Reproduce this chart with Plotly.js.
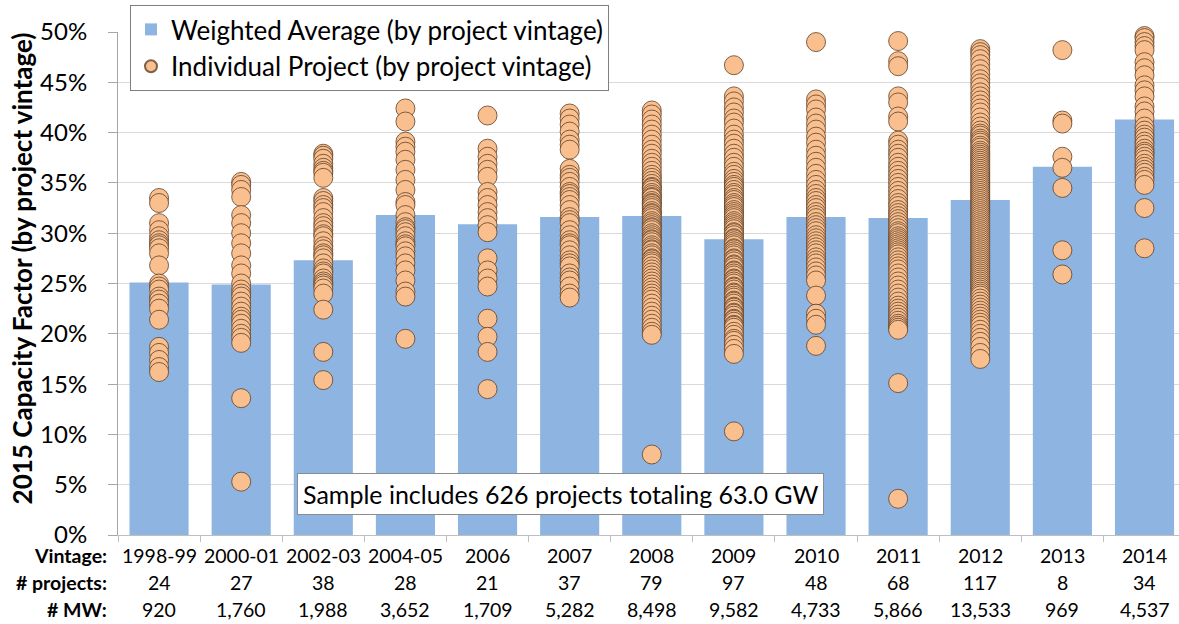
<!DOCTYPE html>
<html>
<head>
<meta charset="utf-8">
<script src="https://cdn.plot.ly/plotly-3.0.1.min.js"></script>
<style>
  html, body { margin: 0; padding: 0; background: #ffffff; }
  #chart { width: 1179px; height: 624px; }
</style>
</head>
<body>
<div id="chart"></div>
<script>
// ---------- DATA ----------
const vintages = ['1998-99','2000-01','2002-03','2004-05','2006','2007','2008','2009','2010','2011','2012','2013','2014'];
const numProjects = [24, 27, 38, 28, 21, 37, 79, 97, 48, 68, 117, 8, 34];
const capacityMW = [920, 1760, 1988, 3652, 1709, 5282, 8498, 9582, 4733, 5866, 13533, 969, 4537];
const weightedAvg = [25.1, 24.9, 27.3, 31.8, 30.9, 31.6, 31.7, 29.4, 31.6, 31.5, 33.3, 36.6, 41.3];

// Individual project capacity factors (%)
const cf1998_99 = [33.5, 33.0, 31.0, 30.3, 29.7, 29.3, 29.0, 28.8, 28.5, 28.0, 26.8, 25.0, 24.7, 24.4, 23.7, 23.4, 23.0, 22.5, 21.4, 18.7, 18.1, 17.4, 16.7, 16.2];
const cf2000_01 = [35.1, 34.8, 34.3, 33.6, 31.8, 31.0, 30.0, 29.0, 28.0, 26.8, 26.0, 25.0, 24.4, 24.0, 23.7, 23.2, 22.7, 22.2, 21.7, 21.4, 21.0, 20.5, 20.0, 19.6, 19.1, 13.6, 5.3];
const cf2002_03 = [37.9, 37.7, 37.4, 36.9, 36.5, 36.2, 36.0, 35.5, 33.5, 33.2, 32.8, 32.5, 32.1, 31.5, 31.0, 30.7, 30.3, 29.9, 29.7, 29.2, 28.7, 28.4, 28.0, 27.8, 27.5, 27.0, 26.5, 26.2, 26.0, 25.5, 25.2, 25.0, 24.8, 24.5, 24.0, 22.4, 18.2, 15.4];
const cf2004_05 = [42.4, 41.1, 39.1, 38.6, 38.1, 37.3, 36.3, 35.3, 34.3, 33.1, 32.8, 31.8, 31.1, 30.6, 30.4, 30.1, 29.7, 29.2, 28.9, 28.7, 28.2, 27.7, 27.0, 26.3, 25.3, 24.2, 23.7, 19.5];
const cf2006 = [41.7, 38.4, 37.6, 36.9, 36.3, 35.6, 34.1, 33.5, 32.8, 32.1, 31.5, 30.8, 30.1, 27.5, 26.3, 25.5, 24.7, 21.5, 19.7, 18.2, 14.5];
const cf2007 = [41.9, 41.4, 40.8, 40.1, 39.3, 38.8, 38.3, 36.4, 35.8, 35.5, 35.1, 34.6, 34.1, 33.9, 33.6, 33.3, 32.8, 32.3, 31.6, 31.3, 31.0, 30.3, 29.8, 29.3, 29.0, 28.8, 28.3, 27.8, 27.3, 27.0, 26.7, 26.0, 25.6, 25.3, 24.7, 24.0, 23.6];
const cf2008 = [42.2, 41.8, 41.3, 40.8, 40.3, 39.8, 39.3, 38.8, 38.3, 37.9, 37.4, 37.0, 36.6, 36.2, 35.8, 35.5, 35.2, 34.9, 34.6, 34.5, 34.3, 34.0, 33.8, 33.6, 33.5, 33.2, 33.0, 32.9, 32.7, 32.5, 32.2, 32.0, 31.9, 31.7, 31.5, 31.2, 31.0, 30.8, 30.6, 30.5, 30.3, 30.0, 29.8, 29.6, 29.4, 29.3, 29.1, 28.8, 28.6, 28.4, 28.3, 28.0, 27.8, 27.5, 27.4, 27.2, 27.0, 26.7, 26.4, 26.1, 25.8, 25.5, 25.2, 24.9, 24.6, 24.3, 24.0, 23.7, 23.4, 23.0, 22.6, 22.2, 21.8, 21.4, 21.0, 20.6, 20.2, 19.9, 8.0];
const cf2009 = [46.7, 43.6, 43.1, 42.5, 42.0, 41.4, 41.0, 40.4, 39.8, 39.3, 38.9, 38.4, 37.9, 37.5, 37.0, 36.6, 36.1, 35.8, 35.4, 35.1, 34.8, 34.6, 34.3, 34.0, 33.8, 33.5, 33.3, 33.0, 32.8, 32.6, 32.3, 32.1, 31.9, 31.7, 31.5, 31.2, 31.0, 30.8, 30.6, 30.4, 30.1, 30.0, 29.8, 29.5, 29.4, 29.2, 29.0, 28.8, 28.5, 28.4, 28.2, 28.0, 27.8, 27.5, 27.4, 27.2, 26.9, 26.8, 26.6, 26.3, 26.2, 26.0, 25.8, 25.5, 25.4, 25.2, 25.0, 24.7, 24.6, 24.4, 24.1, 24.0, 23.8, 23.6, 23.3, 23.2, 23.0, 22.7, 22.6, 22.4, 22.1, 22.0, 21.8, 21.5, 21.4, 21.2, 20.9, 20.8, 20.6, 20.2, 19.9, 19.5, 19.3, 18.9, 18.5, 18.0, 10.3];
const cf2010 = [49.0, 43.3, 42.8, 42.3, 41.5, 40.9, 40.3, 39.6, 39.0, 38.3, 37.7, 37.1, 36.5, 35.9, 35.3, 34.8, 34.3, 33.9, 33.5, 33.2, 32.8, 32.5, 32.1, 31.8, 31.5, 31.1, 30.8, 30.5, 30.2, 29.8, 29.5, 29.2, 28.9, 28.6, 28.3, 28.0, 27.6, 27.3, 27.0, 26.6, 26.2, 25.8, 25.3, 23.8, 22.0, 21.5, 20.9, 18.8];
const cf2011 = [49.1, 47.1, 46.6, 43.6, 43.0, 41.6, 41.1, 39.2, 38.8, 38.3, 37.9, 37.5, 37.0, 36.6, 36.2, 35.8, 35.4, 35.0, 34.6, 34.2, 33.8, 33.4, 33.0, 32.7, 32.3, 32.0, 31.7, 31.4, 31.1, 30.8, 30.5, 30.2, 30.0, 29.7, 29.5, 29.3, 29.1, 28.9, 28.7, 28.5, 28.3, 28.1, 27.9, 27.6, 27.3, 27.0, 26.7, 26.4, 26.0, 25.6, 25.2, 24.8, 24.4, 24.0, 23.6, 23.2, 22.8, 22.5, 22.2, 21.9, 21.6, 21.3, 21.0, 20.8, 20.6, 20.4, 15.1, 3.6];
const cf2012 = [48.3, 48.0, 47.7, 47.3, 46.8, 46.3, 45.8, 45.3, 44.9, 44.5, 44.0, 43.6, 43.2, 42.8, 42.4, 42.0, 41.5, 41.0, 40.6, 40.2, 39.9, 39.7, 39.4, 39.2, 39.0, 38.7, 38.5, 38.2, 38.0, 37.8, 37.6, 37.4, 37.2, 37.0, 36.8, 36.6, 36.4, 36.2, 36.0, 35.8, 35.6, 35.4, 35.2, 35.0, 34.8, 34.6, 34.4, 34.2, 34.0, 33.8, 33.6, 33.4, 33.2, 33.0, 32.8, 32.6, 32.4, 32.2, 32.0, 31.8, 31.6, 31.4, 31.2, 31.0, 30.8, 30.6, 30.4, 30.2, 30.0, 29.8, 29.6, 29.4, 29.2, 29.0, 28.8, 28.6, 28.4, 28.2, 28.0, 27.8, 27.6, 27.4, 27.2, 27.0, 26.8, 26.6, 26.4, 26.2, 26.0, 25.8, 25.6, 25.4, 25.2, 25.0, 24.8, 24.6, 24.4, 24.2, 24.0, 23.8, 23.5, 23.2, 22.9, 22.6, 22.3, 22.0, 21.7, 21.4, 21.1, 20.8, 20.4, 20.0, 19.6, 19.2, 18.7, 18.1, 17.5];
const cf2013 = [48.2, 41.2, 40.9, 37.6, 36.5, 34.5, 28.3, 25.9];
const cf2014 = [49.6, 49.4, 49.0, 48.6, 48.2, 47.0, 46.4, 45.7, 44.7, 44.2, 43.6, 42.6, 42.1, 41.4, 40.6, 40.2, 39.8, 39.5, 39.1, 38.8, 38.4, 38.1, 37.9, 37.6, 37.3, 36.9, 36.6, 36.3, 36.0, 35.6, 35.3, 34.8, 32.5, 28.5];

const individual = [cf1998_99, cf2000_01, cf2002_03, cf2004_05, cf2006, cf2007, cf2008, cf2009, cf2010, cf2011, cf2012, cf2013, cf2014];

const rowLabels = ['Vintage:', '# projects:', '# MW:'];
const legendNames = ['Weighted Average (by project vintage)', 'Individual Project (by project vintage)'];
const noteText = 'Sample includes 626 projects totaling 63.0 GW';
const yTitle = '2015 Capacity Factor (by project vintage)';

// ---------- BUILD ----------
const scatterX = [], scatterY = [];
individual.forEach((arr, i) => arr.forEach(v => { scatterX.push(vintages[i]); scatterY.push(v); }));

const FONT = 'Lato, "Open Sans", sans-serif';
const TXT = '#000000';

const traces = [
  {
    type: 'bar', x: vintages, y: weightedAvg, name: legendNames[0],
    marker: { color: '#8eb4e2', line: { width: 0 } },
    legendgroup: 'a', hoverinfo: 'skip'
  },
  {
    type: 'scatter', mode: 'markers', x: scatterX, y: scatterY, name: legendNames[1],
    marker: { size: 19, color: '#f9bf8f', line: { color: 'rgba(95,65,40,0.8)', width: 1 } },
    cliponaxis: false, legendgroup: 'b', hoverinfo: 'skip'
  }
];

const rowY = [-0.041, -0.0945, -0.148];
const annotations = [];
rowLabels.forEach((t, r) => annotations.push({
  xref: 'paper', yref: 'paper', x: -0.009, y: rowY[r], xanchor: 'right', yanchor: 'middle',
  text: '<b>' + t + '</b>', showarrow: false, borderpad: 0, font: { family: FONT, size: 19.5, color: TXT }
}));
vintages.forEach((v, i) => {
  const vals = [v, String(numProjects[i]), capacityMW[i].toLocaleString('en-US')];
  vals.forEach((t, r) => annotations.push({
    xref: 'x', yref: 'paper', x: i, y: rowY[r], xanchor: 'center', yanchor: 'middle',
    text: t, showarrow: false, borderpad: 0, font: { family: FONT, size: 19.5, color: TXT }
  }));
});
annotations.push({
  xref: 'paper', yref: 'paper', x: 0.4166, y: 0.0815, xanchor: 'center', yanchor: 'middle',
  text: noteText, showarrow: false, bgcolor: '#ffffff', bordercolor: '#8c8c8c', borderwidth: 1,
  borderpad: 5, font: { family: FONT, size: 25, color: TXT }
});
// y-axis title (placed as a rotated annotation to match reference position)
annotations.push({
  xref: 'paper', yref: 'paper', x: -0.0905, y: 0.53, xanchor: 'center', yanchor: 'middle',
  text: '<b>' + yTitle + '</b>', textangle: -90, showarrow: false,
  font: { family: FONT, size: 26, color: TXT }
});

const layout = {
  width: 1179, height: 624,
  margin: { l: 118, r: 0, t: 32, b: 89 },
  paper_bgcolor: '#ffffff', plot_bgcolor: '#ffffff',
  font: { family: FONT, color: TXT },
  bargap: 0.28,
  showlegend: true,
  legend: {
    x: 0.0113, y: 1.0537, xanchor: 'left', yanchor: 'top',
    bgcolor: '#ffffff', bordercolor: '#7f7f7f', borderwidth: 1,
    font: { family: FONT, size: 26, color: TXT },
    traceorder: 'grouped', tracegroupgap: 0, itemsizing: 'constant'
  },
  xaxis: {
    type: 'category', range: [-0.5, 12.42],
    showticklabels: false, showgrid: false, zeroline: false,
    showline: true, linecolor: '#bfbfbf', linewidth: 1,
    ticks: 'outside', tickson: 'boundaries', ticklen: 6, tickcolor: '#bfbfbf'
  },
  yaxis: {
    range: [0, 50], dtick: 5, ticksuffix: '%',
    showgrid: true, gridcolor: '#d9d9d9', gridwidth: 1, zeroline: false,
    showline: true, linecolor: '#a6a6a6', linewidth: 1,
    ticks: 'outside', ticklen: 9, tickcolor: '#a6a6a6', ticklabelstandoff: 16,
    tickfont: { family: FONT, size: 24, color: TXT }
  },
  annotations: annotations
};

Plotly.newPlot('chart', traces, layout, { displayModeBar: false, staticPlot: true });
</script>
</body>
</html>
